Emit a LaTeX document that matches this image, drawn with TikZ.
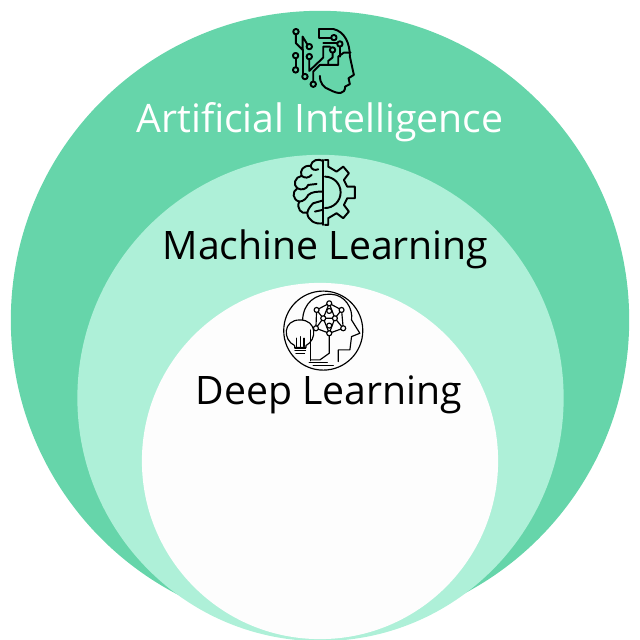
\documentclass[tikz,border=0pt]{standalone}
\usepackage{fontspec}
\setmainfont{Open Sans}
\definecolor{aigreen}{HTML}{66D5AA}
\definecolor{mlgreen}{HTML}{AEF0D8}
\definecolor{dlwhite}{HTML}{FDFDFD}
\tikzset{
  iconline/.style={line width=0.55pt, line join=round, line cap=round},
  iconthin/.style={line width=0.33pt, line join=round, line cap=round},
  label/.style={font=\fontsize{11.15pt}{13pt}\selectfont, inner sep=0pt}
}
\begin{document}
\begin{tikzpicture}[x=0.01cm,y=-0.01cm]
  \useasboundingbox (0,0) rectangle (640,640);
  % nested circles
  \fill[aigreen] (320,320) circle[radius=3.09cm];
  \fill[mlgreen] (320.5,398) circle[radius=2.43cm];
  \fill[dlwhite] (320,461) circle[radius=1.78cm];
  % labels
  \node[label, text=white] (ai) at (320,122) {Artificial Intelligence};
  \node[label, text=black] (ml) at (325.5,249) {Machine Learning};
  \node[label, text=black] (dl) at (329,395) {Deep Learning};
  % icon: head with circuits
  \begin{scope}[shift={(270,15)},x=0.00333cm,y=-0.00333cm,iconline]
    \draw (148,42) -- (190,42) .. controls (225,50) and (240,85) .. (240,125)
      -- (252,180) -- (236,190) -- (240,208) -- (226,215)
      .. controls (225,240) and (205,238) .. (180,225)
      .. controls (160,218) and (150,205) .. (150,183);
    \draw (148,42) -- (148,70) -- (183,70);
    \draw (78,58) -- (78,85) -- (98,105) -- (98,65) -- (112,88);
    \draw (98,105) -- (98,178);
    \draw (77,130) -- (77,157);
    \draw (118,133) -- (118,168) -- (160,128) -- (160,95) -- (180,95);
    \draw (130,200) -- (130,170) -- (150,150) -- (205,150) -- (205,125) -- (222,113) -- (242,113);
    \draw (188,113) -- (188,128) -- (175,138) -- (175,150);
    \draw (160,85) -- (210,85) (210,95) -- (210,125);
    \foreach \x/\y in {78/50,118/95,77/122,118/125,77/165,105/185,130/208,192/68,210/87,188/105}
      \draw[fill=aigreen] (\x,\y) circle[radius=0.027cm];
  \end{scope}
  % icon: brain and gear
  \begin{scope}[shift={(270,150)},x=0.00333cm,y=-0.00333cm,iconline]
    \draw (160,30) -- (160,225);
    \draw (160,33) .. controls (145,25) and (125,30) .. (122,48)
      .. controls (100,45) and (88,62) .. (95,78)
      .. controls (75,80) and (68,105) .. (82,115)
      .. controls (65,125) and (68,150) .. (88,155)
      .. controls (78,175) and (95,195) .. (112,188)
      .. controls (112,210) and (135,225) .. (160,220);
    \draw (95,78) .. controls (105,85) and (115,85) .. (125,75);
    \draw (122,48) .. controls (125,60) and (135,62) .. (145,58);
    \draw (82,115) .. controls (95,122) and (110,118) .. (115,105) -- (140,102);
    \draw (88,155) .. controls (100,155) and (110,145) .. (115,135) .. controls (125,125) and (145,125) .. (158,125);
    \draw (112,188) .. controls (115,175) and (125,165) .. (130,160) -- (158,152);
    \draw (135,185) -- (158,180);
    \draw (165,30) -- (175,30) -- (175,50) -- (200,65) -- (220,50) -- (237,70) -- (222,90)
      -- (232,110) -- (255,110) -- (255,145) -- (232,145) -- (222,165) -- (237,185)
      -- (220,205) -- (200,190) -- (175,205) -- (175,225) -- (165,225);
    \draw (165,80) arc[start angle=90, end angle=-90, radius=0.157cm];
  \end{scope}
  % icon: bulb, head and network
  \begin{scope}[shift={(270,285)},x=0.00333cm,y=-0.00333cm,iconthin]
    \draw (160,137) circle[radius=0.395cm];
    \draw (98,105) .. controls (100,55) and (135,25) .. (185,28)
      .. controls (225,30) and (250,70) .. (245,105) -- (270,145) -- (245,155)
      -- (240,195) -- (205,195) -- (205,230);
    \draw (122,135) -- (122,228);
    \draw (178,148) -- (178,205) -- (150,225) -- (122,225);
    \draw (90,105) .. controls (38,105) and (38,165) .. (74,182) -- (74,188) -- (108,188) -- (108,182)
      .. controls (142,165) and (142,105) .. (90,105);
    \draw (75,192) -- (107,192) (75,198) -- (107,198) (78,205) -- (104,205);
    \draw (80,185) -- (80,160) (91,185) -- (91,155) (102,185) -- (102,160);
    \draw (118,234) -- (172,234) (130,242) -- (190,242);
    \draw (140,75) -- (178,55) -- (215,75) -- (220,130) -- (178,145) -- (138,130) -- cycle;
    \draw (178,55) -- (160,100) -- (178,145) -- (195,100) -- cycle;
    \draw (140,75) -- (160,100) -- (138,130) (215,75) -- (195,100) -- (220,130) (160,100) -- (195,100);
    \foreach \x/\y in {140/75,178/55,215/75,138/130,178/145,220/130,160/100,195/100,178/78,178/122}
      \draw[fill=dlwhite] (\x,\y) circle[radius=0.025cm];
  \end{scope}
\end{tikzpicture}
\end{document}
